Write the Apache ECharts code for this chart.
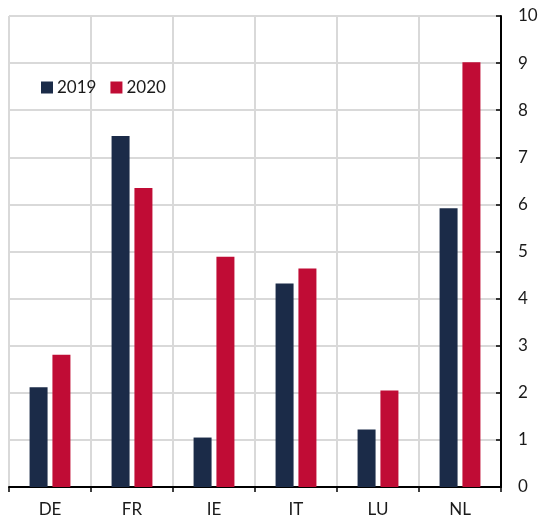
<!DOCTYPE html>
<html><head><meta charset="utf-8">
<script src="https://cdn.jsdelivr.net/npm/echarts@6/dist/echarts.min.js"></script>
<style>html,body{margin:0;padding:0;background:#fff}#c{width:541px;height:520px}</style>
</head><body><div id="c"></div>
<script>
const categories = ["DE","FR","IE","IT","LU","NL"];
const values2019 = [2.12, 7.45, 1.05, 4.32, 1.22, 5.92];
const values2020 = [2.81, 6.35, 4.89, 4.64, 2.05, 9.02];
const seriesNames = ["2019","2020"];
const yTicks = [0,1,2,3,4,5,6,7,8,9,10];

const chart = echarts.init(document.getElementById('c'), null, {renderer:'canvas'});
const font = 'Lato, "Open Sans", "Noto Sans", sans-serif';
chart.setOption({
  animation:false,
  backgroundColor:'#fff',
  color:['#1b2b48','#c00c35'],
  legend:{
    left:36, top:74, itemWidth:12, itemHeight:12, itemGap:14,
    icon:'rect',
    textStyle:{fontFamily:font, fontSize:17, color:'#1a1a1a', padding:[0,0,0,-1]},
    data:seriesNames
  },
  grid:{left:9, right:40, top:16, bottom:33, containLabel:false},
  xAxis:{
    type:'category', data:categories, boundaryGap:true,
    axisLine:{show:true, lineStyle:{color:'#000', width:2}},
    axisTick:{show:true, length:5, inside:false, lineStyle:{color:'#000', width:1.5}},
    axisLabel:{fontFamily:font, fontSize:17, color:'#1a1a1a', margin:14},
    splitLine:{show:true, lineStyle:{color:'#d9d9d9', width:2}}
  },
  yAxis:{
    type:'value', position:'right', min:yTicks[0], max:yTicks[yTicks.length-1], interval:1,
    axisLine:{show:true, lineStyle:{color:'#000', width:2}},
    axisTick:{show:true, inside:true, length:5, lineStyle:{color:'#000', width:1.5}},
    axisLabel:{fontFamily:font, fontSize:17, color:'#1a1a1a', margin:17, align:'left'},
    splitLine:{show:true, lineStyle:{color:'#d9d9d9', width:2}}
  },
  series:[
    {name:seriesNames[0], type:'bar', data:values2019, barWidth:18, barGap:'27%'},
    {name:seriesNames[1], type:'bar', data:values2020, barWidth:18, barGap:'27%'}
  ]
});
</script></body></html>
